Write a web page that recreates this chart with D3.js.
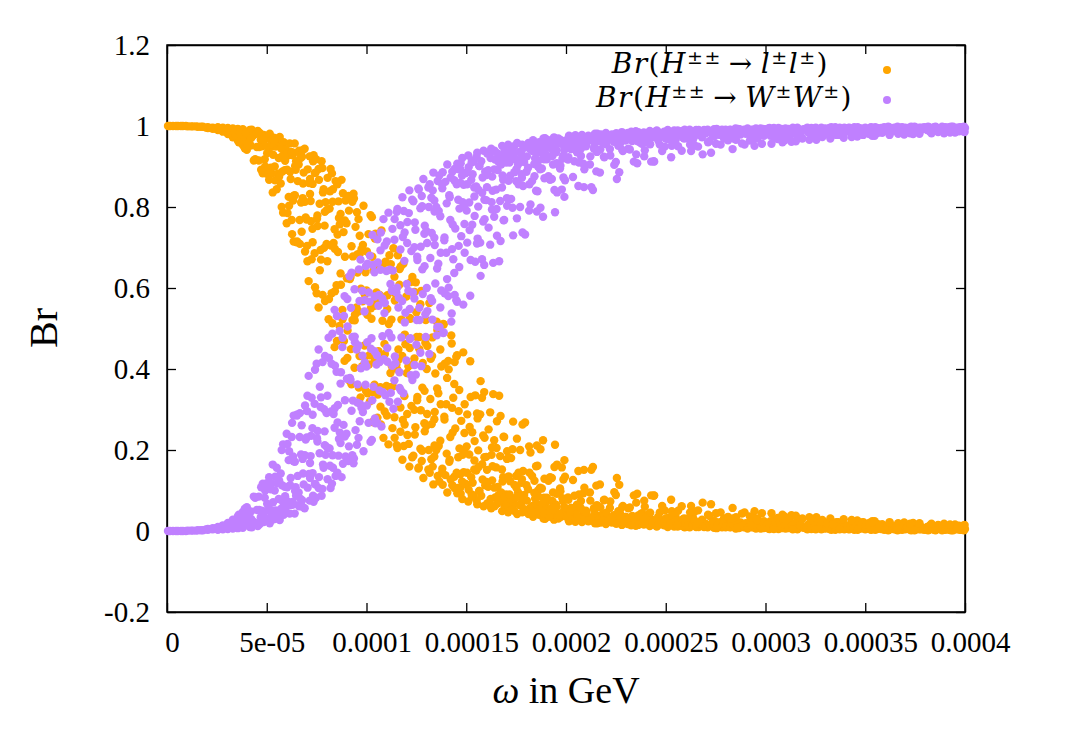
<!DOCTYPE html>
<html>
<head>
<meta charset="utf-8">
<script src="https://cdn.jsdelivr.net/npm/d3@7"></script>
<style>
body { margin: 0; background: #fff; }
svg text { font-family: 'Liberation Serif', 'DejaVu Serif', serif; fill: #000; }
</style>
</head>
<body>
<svg id="chart" width="1079" height="743"></svg>
<script>
// scan points: [omega in 1e-5 GeV, Br(H++ -> l l), Br(H++ -> W W)]
const scanPoints = [
[0.05,1,0],[0.3,1,0],[0.55,1,0],[0.8,1,0],[1.05,0.999,0.001],[1.3,0.999,0.001],[1.55,0.998,0.002],[1.8,0.998,0.002],
[2.05,0.997,0.003],[2.05,0.995,0.005],[2.3,0.996,0.004],[2.3,0.993,0.007],[2.55,0.997,0.003],[2.55,0.99,0.01],
[2.8,0.996,0.004],[2.8,0.986,0.014],[3.05,0.995,0.005],[3.05,0.98,0.02],[3.3,0.994,0.006],[3.3,0.984,0.016],
[3.3,0.972,0.028],[3.55,0.993,0.007],[3.55,0.978,0.022],[3.55,0.964,0.036],[3.8,0.992,0.008],[3.8,0.974,0.026],[3.8,0.953,0.047],
[4.0,0.941,0.059],[4.1,0.972,0.028],[4.15,0.99,0.01],[4.2,0.952,0.048],[4.25,0.991,0.009],[4.3,0.976,0.024],
[4.35,0.915,0.085],[4.45,0.98,0.02],[4.5,0.948,0.052],[4.55,0.988,0.012],[4.6,0.915,0.085],[4.65,0.983,0.017],
[4.7,0.966,0.034],[4.75,0.95,0.05],[4.8,0.883,0.117],[4.85,0.978,0.022],[4.9,0.918,0.082],[4.95,0.951,0.049],
[5.0,0.882,0.118],[5.05,0.97,0.03],[5.1,0.935,0.065],[5.15,0.981,0.019],[5.2,0.897,0.103],[5.25,0.949,0.051],
[5.25,0.883,0.117],[5.3,0.836,0.164],[5.35,0.971,0.029],[5.4,0.9,0.1],[5.45,0.949,0.051],[5.5,0.844,0.156],
[5.55,0.961,0.039],[5.55,0.882,0.118],[5.6,0.921,0.079],[5.65,0.973,0.027],[5.7,0.858,0.142],[5.75,0.8,0.2],
[5.8,0.927,0.073],[5.85,0.96,0.04],[5.9,0.891,0.109],[5.95,0.943,0.057],
[6.0,0.76,0.24],[6.05,0.927,0.073],[6.1,0.825,0.175],[6.15,0.957,0.043],[6.2,0.869,0.131],[6.25,0.768,0.232],
[6.3,0.928,0.072],[6.35,0.828,0.172],[6.35,0.715,0.285],[6.4,0.957,0.043],[6.45,0.892,0.108],[6.5,0.713,0.287],
[6.55,0.864,0.136],[6.6,0.936,0.064],[6.6,0.905,0.095],[6.65,0.768,0.232],[6.7,0.921,0.079],[6.75,0.739,0.261],
[6.8,0.822,0.178],[6.85,0.885,0.115],[6.9,0.944,0.056],[6.95,0.774,0.226],
[7.0,0.769,0.231],[7.05,0.893,0.107],[7.1,0.617,0.383],[7.15,0.925,0.075],[7.2,0.815,0.185],[7.25,0.671,0.329],
[7.3,0.857,0.143],[7.3,0.713,0.287],[7.35,0.928,0.072],[7.4,0.686,0.314],[7.45,0.885,0.115],[7.5,0.587,0.413],
[7.55,0.753,0.247],[7.6,0.894,0.106],[7.6,0.552,0.448],[7.65,0.808,0.192],[7.7,0.694,0.306],[7.75,0.913,0.087],
[7.8,0.583,0.417],[7.85,0.844,0.156],[7.9,0.754,0.246],[7.95,0.812,0.188],
[8.0,0.709,0.291],[8.05,0.872,0.128],[8.1,0.523,0.477],[8.15,0.796,0.204],[8.2,0.894,0.106],[8.25,0.587,0.413],
[8.3,0.813,0.187],[8.35,0.711,0.289],[8.4,0.454,0.546],[8.4,0.745,0.255],[8.45,0.864,0.136],[8.5,0.607,0.393],
[8.55,0.732,0.268],[8.6,0.814,0.186],[8.65,0.506,0.494],[8.7,0.636,0.364],[8.7,0.783,0.217],[8.75,0.867,0.133],
[8.8,0.523,0.477],[8.85,0.738,0.262],[8.9,0.42,0.58],[8.95,0.816,0.184],
[9.0,0.76,0.24],[9.05,0.495,0.505],[9.1,0.827,0.173],[9.15,0.371,0.629],[9.2,0.627,0.373],[9.25,0.703,0.297],
[9.25,0.362,0.638],[9.3,0.521,0.479],[9.35,0.833,0.167],[9.4,0.403,0.597],[9.45,0.751,0.249],[9.5,0.552,0.448],
[9.55,0.638,0.362],[9.6,0.77,0.23],[9.6,0.542,0.458],[9.65,0.432,0.568],[9.7,0.33,0.67],[9.75,0.696,0.304],
[9.8,0.567,0.433],[9.85,0.803,0.197],[9.9,0.458,0.542],[9.95,0.639,0.361],
[10.0,0.594,0.406],[10.05,0.34,0.66],[10.1,0.733,0.267],[10.15,0.434,0.566],[10.2,0.78,0.22],[10.25,0.524,0.476],
[10.3,0.269,0.731],[10.35,0.644,0.356],[10.4,0.361,0.639],[10.4,0.556,0.444],[10.45,0.734,0.266],[10.5,0.589,0.411],
[10.55,0.28,0.72],[10.6,0.444,0.556],[10.65,0.653,0.347],[10.7,0.355,0.645],[10.7,0.307,0.693],[10.75,0.742,0.258],
[10.8,0.519,0.481],[10.85,0.23,0.77],[10.9,0.462,0.538],[10.95,0.665,0.335],
[11.0,0.358,0.642],[11.05,0.582,0.418],[11.1,0.214,0.786],[11.15,0.681,0.319],[11.2,0.39,0.61],[11.25,0.522,0.478],
[11.3,0.254,0.746],[11.35,0.698,0.302],[11.4,0.281,0.719],[11.4,0.628,0.372],[11.45,0.586,0.414],[11.5,0.411,0.589],
[11.55,0.205,0.795],[11.6,0.448,0.552],[11.65,0.608,0.392],[11.7,0.305,0.695],[11.7,0.245,0.755],[11.75,0.522,0.478],
[11.8,0.176,0.824],[11.85,0.66,0.34],[11.9,0.333,0.667],[11.95,0.461,0.539],
[12.0,0.579,0.421],[12.05,0.237,0.763],[12.1,0.407,0.593],[12.15,0.159,0.841],[12.2,0.524,0.476],[12.25,0.309,0.691],
[12.3,0.627,0.373],[12.35,0.186,0.814],[12.4,0.426,0.574],[12.4,0.299,0.701],[12.45,0.256,0.744],[12.5,0.54,0.46],
[12.55,0.331,0.669],[12.6,0.154,0.846],[12.65,0.449,0.551],[12.7,0.203,0.797],[12.7,0.56,0.44],[12.75,0.593,0.407],
[12.8,0.354,0.646],[12.85,0.131,0.869],[12.9,0.266,0.734],[12.95,0.465,0.535],
[13.0,0.259,0.741],[13.05,0.457,0.543],[13.1,0.152,0.848],[13.15,0.563,0.437],[13.2,0.326,0.674],[13.25,0.177,0.823],
[13.3,0.478,0.522],[13.35,0.115,0.885],[13.4,0.276,0.724],[13.4,0.184,0.816],[13.45,0.389,0.611],[13.5,0.2,0.8],
[13.55,0.496,0.504],[13.6,0.34,0.66],[13.65,0.122,0.878],[13.7,0.223,0.777],[13.7,0.448,0.552],[13.75,0.406,0.594],
[13.8,0.154,0.846],[13.85,0.511,0.489],[13.9,0.282,0.718],[13.95,0.138,0.862],
[14.0,0.313,0.687],[14.05,0.095,0.905],[14.1,0.42,0.58],[14.15,0.171,0.829],[14.2,0.232,0.768],[14.25,0.483,0.517],
[14.3,0.113,0.887],[14.35,0.329,0.671],[14.4,0.134,0.866],[14.4,0.363,0.637],[14.45,0.253,0.747],[14.5,0.43,0.57],
[14.55,0.093,0.907],[14.6,0.182,0.818],[14.65,0.348,0.652],[14.7,0.14,0.86],[14.7,0.107,0.893],[14.75,0.272,0.728],
[14.8,0.079,0.921],[14.85,0.441,0.559],[14.9,0.199,0.801],[14.95,0.117,0.883],
[15.0,0.115,0.885],[15.05,0.288,0.712],[15.1,0.073,0.927],[15.15,0.189,0.811],[15.2,0.419,0.581],[15.25,0.133,0.867],
[15.3,0.244,0.756],[15.35,0.088,0.912],[15.4,0.152,0.848],[15.45,0.335,0.665],[15.5,0.149,0.851],[15.55,0.066,0.934],
[15.6,0.199,0.801],[15.65,0.099,0.901],[15.7,0.288,0.712],[15.75,0.087,0.913],[15.8,0.165,0.835],[15.85,0.236,0.764],
[15.9,0.343,0.657],[15.95,0.113,0.887],
[16.0,0.183,0.817],[16.05,0.068,0.932],[16.1,0.109,0.891],[16.2,0.293,0.707],[16.25,0.056,0.944],[16.3,0.125,0.875],
[16.35,0.338,0.662],[16.4,0.224,0.776],[16.45,0.083,0.917],[16.5,0.157,0.843],[16.55,0.067,0.933],[16.65,0.334,0.666],
[16.7,0.185,0.815],[16.75,0.095,0.905],[16.8,0.049,0.951],[16.85,0.133,0.867],[16.9,0.232,0.768],[16.95,0.074,0.926],
[17.0,0.09,0.91],[17.05,0.197,0.803],[17.1,0.046,0.954],[17.2,0.123,0.877],[17.25,0.18,0.82],[17.3,0.059,0.941],
[17.35,0.27,0.73],[17.4,0.067,0.933],[17.5,0.136,0.864],[17.55,0.042,0.958],[17.6,0.095,0.905],[17.65,0.085,0.915],
[17.7,0.2,0.8],[17.75,0.068,0.932],[17.8,0.046,0.954],[17.85,0.148,0.852],[17.9,0.089,0.911],[17.95,0.268,0.732],
[18.0,0.049,0.951],[18.1,0.103,0.897],[18.15,0.209,0.791],[18.2,0.057,0.943],[18.3,0.136,0.864],[18.35,0.035,0.965],
[18.45,0.08,0.92],[18.5,0.16,0.84],[18.55,0.066,0.934],[18.6,0.1,0.9],[18.65,0.04,0.96],[18.7,0.107,0.893],
[18.8,0.05,0.95],[18.85,0.224,0.776],[18.9,0.082,0.918],[18.95,0.03,0.97],
[19.0,0.071,0.929],[19.1,0.035,0.965],[19.2,0.133,0.867],[19.25,0.05,0.95],[19.35,0.095,0.905],[19.4,0.028,0.972],
[19.45,0.213,0.787],[19.5,0.065,0.935],[19.55,0.164,0.836],[19.6,0.043,0.957],[19.7,0.105,0.895],[19.75,0.035,0.965],
[19.85,0.074,0.926],[19.9,0.05,0.95],[19.95,0.134,0.866],
[20.0,0.039,0.961],[20.1,0.083,0.917],[20.15,0.024,0.976],[20.25,0.057,0.943],[20.35,0.126,0.874],[20.4,0.046,0.954],
[20.5,0.027,0.973],[20.55,0.065,0.935],[20.65,0.09,0.91],[20.7,0.035,0.965],[20.75,0.074,0.926],[20.8,0.022,0.978],
[20.85,0.051,0.949],[20.9,0.151,0.849],[20.95,0.039,0.961],
[21.0,0.05,0.95],[21.1,0.027,0.973],[21.2,0.095,0.905],[21.3,0.031,0.969],[21.35,0.158,0.842],[21.4,0.056,0.944],
[21.45,0.019,0.981],[21.55,0.064,0.936],[21.6,0.037,0.963],[21.7,0.115,0.885],[21.75,0.021,0.979],[21.85,0.042,0.958],
[21.9,0.076,0.924],[21.95,0.027,0.973],
[22.0,0.017,0.983],[22.1,0.034,0.966],[22.2,0.057,0.943],[22.3,0.021,0.979],[22.4,0.039,0.961],[22.5,0.089,0.911],
[22.55,0.131,0.869],[22.6,0.025,0.975],[22.7,0.045,0.955],[22.8,0.015,0.985],[22.85,0.062,0.938],[22.95,0.029,0.971],
[23.0,0.035,0.965],[23.1,0.017,0.983],[23.2,0.058,0.942],[23.3,0.022,0.978],[23.4,0.088,0.912],[23.45,0.032,0.968],
[23.5,0.013,0.987],[23.6,0.038,0.962],[23.7,0.026,0.974],[23.8,0.044,0.956],[23.9,0.016,0.984],[23.95,0.06,0.94],
[24.0,0.019,0.981],[24.1,0.041,0.959],[24.2,0.012,0.988],[24.3,0.028,0.972],[24.4,0.087,0.913],[24.5,0.022,0.978],
[24.55,0.011,0.989],[24.6,0.014,0.986],[24.7,0.046,0.954],[24.8,0.026,0.974],[24.9,0.017,0.983],[24.95,0.051,0.949],
[25.0,0.031,0.969],[25.1,0.01,0.99],[25.2,0.02,0.98],[25.3,0.049,0.951],[25.4,0.016,0.984],[25.45,0.043,0.957],
[25.5,0.034,0.966],[25.6,0.011,0.989],[25.7,0.022,0.978],[25.8,0.061,0.939],[25.9,0.018,0.982],[25.95,0.009,0.991],
[26.0,0.014,0.986],[26.1,0.031,0.969],[26.2,0.009,0.991],[26.3,0.02,0.98],[26.35,0.035,0.965],[26.45,0.048,0.952],
[26.55,0.015,0.985],[26.65,0.01,0.99],[26.75,0.023,0.977],[26.85,0.07,0.93],[26.95,0.012,0.988],
[27.0,0.018,0.982],[27.1,0.009,0.991],[27.2,0.037,0.963],[27.35,0.012,0.988],[27.45,0.025,0.975],[27.5,0.016,0.984],
[27.55,0.007,0.993],[27.65,0.017,0.983],[27.75,0.046,0.954],[27.85,0.014,0.986],[27.95,0.028,0.972],
[28.0,0.009,0.991],[28.15,0.019,0.981],[28.25,0.01,0.99],[28.35,0.057,0.943],[28.4,0.031,0.969],[28.5,0.006,0.994],
[28.6,0.015,0.985],[28.7,0.008,0.992],[28.75,0.021,0.979],[28.85,0.011,0.989],[28.95,0.046,0.954],
[29.0,0.014,0.986],[29.1,0.006,0.994],[29.25,0.024,0.976],[29.35,0.009,0.991],[29.45,0.049,0.951],[29.5,0.016,0.984],
[29.6,0.031,0.969],[29.75,0.006,0.994],[29.85,0.01,0.99],[29.95,0.018,0.982],
[30.0,0.008,0.992],[30.1,0.018,0.982],[30.2,0.005,0.995],[30.3,0.044,0.956],[30.35,0.012,0.988],[30.45,0.028,0.972],
[30.55,0.01,0.99],[30.65,0.005,0.995],[30.75,0.017,0.983],[30.85,0.011,0.989],[30.95,0.036,0.964],
[31.0,0.006,0.994],[31.1,0.013,0.987],[31.25,0.022,0.978],[31.3,0.039,0.961],[31.4,0.007,0.993],[31.5,0.015,0.985],
[31.6,0.004,0.996],[31.7,0.01,0.99],[31.8,0.027,0.973],[31.9,0.008,0.992],
[32.0,0.009,0.991],[32.1,0.004,0.996],[32.25,0.016,0.984],[32.4,0.006,0.994],[32.5,0.021,0.979],[32.55,0.034,0.966],
[32.65,0.011,0.989],[32.8,0.004,0.996],[32.9,0.012,0.988],[32.95,0.007,0.993],
[33.0,0.006,0.994],[33.15,0.012,0.988],[33.25,0.031,0.969],[33.3,0.003,0.997],[33.45,0.008,0.992],[33.55,0.022,0.978],
[33.7,0.007,0.993],[33.8,0.016,0.984],[33.9,0.009,0.991],[33.95,0.004,0.996],
[34.0,0.011,0.989],[34.15,0.005,0.995],[34.25,0.009,0.991],[34.3,0.017,0.983],[34.45,0.003,0.997],[34.55,0.007,0.993],
[34.6,0.026,0.974],[34.7,0.012,0.988],[34.8,0.006,0.994],[34.9,0.022,0.978],
[35.0,0.004,0.996],[35.15,0.008,0.992],[35.3,0.003,0.997],[35.35,0.024,0.976],[35.45,0.013,0.987],[35.55,0.006,0.994],
[35.6,0.005,0.995],[35.7,0.009,0.991],[35.85,0.017,0.983],[35.95,0.003,0.997],
[36.0,0.006,0.994],[36.15,0.002,0.998],[36.3,0.01,0.99],[36.4,0.008,0.992],[36.45,0.004,0.996],[36.6,0.014,0.986],
[36.7,0.007,0.993],[36.8,0.004,0.996],[36.85,0.003,0.997],[36.95,0.021,0.979],
[37.0,0.004,0.996],[37.15,0.011,0.989],[37.3,0.002,0.998],[37.4,0.02,0.98],[37.45,0.006,0.994],[37.55,0.005,0.995],
[37.6,0.015,0.985],[37.7,0.004,0.996],[37.85,0.007,0.993],[37.95,0.003,0.997],
[38.0,0.005,0.995],[38.15,0.002,0.998],[38.3,0.008,0.992],[38.4,0.007,0.993],[38.45,0.003,0.997],[38.6,0.011,0.989],
[38.7,0.013,0.987],[38.75,0.006,0.994],[38.85,0.002,0.998],[38.95,0.018,0.982],
[39.0,0.003,0.997],[39.15,0.006,0.994],[39.3,0.002,0.998],[39.45,0.009,0.991],[39.5,0.016,0.984],[39.6,0.004,0.996],
[39.7,0.013,0.987],[39.8,0.003,0.997],[39.9,0.007,0.993],[39.95,0.002,0.998],[40.0,0.005,0.995],
// second pass over the same plot, filling the denser parts
[0.15,1,0],[0.45,1,0],[0.7,1,0],[0.95,1,0],[1.2,0.999,0.001],[1.45,0.999,0.001],[1.7,0.998,0.002],[1.95,0.996,0.004],
[2.2,0.995,0.005],[2.45,0.993,0.007],[2.7,0.99,0.01],[2.95,0.988,0.012],[3.2,0.98,0.02],[3.45,0.975,0.025],
[3.7,0.968,0.032],[3.9,0.96,0.04],[3.15,0.99,0.01],[3.4,0.988,0.012],[3.65,0.985,0.015],[3.95,0.982,0.018],
[3.6,0.96,0.04],[3.9,0.945,0.055],
[4.02,0.956,0.044],[4.22,0.97,0.03],[4.42,0.918,0.082],[4.62,0.948,0.052],[4.82,0.966,0.034],[4.92,0.9,0.1],
[4.52,0.983,0.017],[4.72,0.892,0.108],
[5.02,0.933,0.067],[5.12,0.867,0.133],[5.22,0.954,0.046],[5.32,0.929,0.071],[5.42,0.866,0.134],[5.52,0.969,0.031],
[5.62,0.875,0.125],[5.72,0.945,0.055],[5.82,0.786,0.214],[5.92,0.914,0.086],[5.37,0.963,0.037],[5.77,0.887,0.113],
[6.02,0.892,0.108],[6.12,0.803,0.197],[6.22,0.936,0.064],[6.32,0.816,0.184],[6.42,0.901,0.099],[6.52,0.715,0.285],
[6.62,0.939,0.061],[6.72,0.811,0.189],[6.82,0.858,0.142],[6.92,0.69,0.31],[6.47,0.913,0.087],[6.27,0.733,0.267],[6.77,0.924,0.076],
[7.02,0.704,0.296],[7.12,0.859,0.141],[7.22,0.765,0.235],[7.32,0.913,0.087],[7.42,0.602,0.398],[7.52,0.771,0.229],
[7.62,0.867,0.133],[7.72,0.67,0.33],[7.82,0.836,0.164],[7.92,0.568,0.432],[7.17,0.832,0.168],[7.47,0.918,0.082],[7.87,0.699,0.301],
[8.02,0.793,0.207],[8.12,0.573,0.427],[8.22,0.705,0.295],[8.32,0.844,0.156],[8.42,0.592,0.408],[8.52,0.469,0.531],
[8.62,0.773,0.227],[8.72,0.608,0.392],[8.82,0.834,0.166],[8.92,0.677,0.323],[8.27,0.883,0.117],[8.57,0.689,0.311],[8.87,0.469,0.531],
[9.02,0.624,0.376],[9.12,0.791,0.209],[9.22,0.449,0.551],[9.32,0.678,0.322],[9.42,0.534,0.466],[9.52,0.787,0.213],
[9.62,0.354,0.646],[9.72,0.598,0.402],[9.82,0.706,0.294],[9.92,0.43,0.57],[9.37,0.821,0.179],[9.67,0.686,0.314],[9.97,0.346,0.654],
[10.02,0.69,0.31],[10.12,0.411,0.589],[10.22,0.55,0.45],[10.32,0.343,0.657],[10.42,0.722,0.278],[10.52,0.566,0.434],
[10.62,0.417,0.583],[10.72,0.263,0.737],[10.82,0.657,0.343],[10.92,0.437,0.563],[10.27,0.775,0.225],[10.57,0.337,0.663],[10.87,0.576,0.424],
[11.02,0.285,0.715],[11.12,0.511,0.489],[11.22,0.659,0.341],[11.32,0.357,0.643],[11.42,0.569,0.431],[11.52,0.212,0.788],
[11.62,0.424,0.576],[11.72,0.653,0.347],[11.82,0.274,0.726],[11.92,0.485,0.515],[11.27,0.407,0.593],[11.57,0.681,0.319],[11.87,0.21,0.79],
[12.02,0.39,0.61],[12.12,0.215,0.785],[12.22,0.615,0.385],[12.32,0.411,0.589],[12.42,0.238,0.762],[12.52,0.479,0.521],
[12.62,0.157,0.843],[12.72,0.298,0.702],[12.82,0.415,0.585],[12.92,0.246,0.754],[12.17,0.526,0.474],[12.47,0.614,0.386],
[12.77,0.173,0.827],[12.97,0.521,0.479],
[13.02,0.4,0.6],[13.12,0.2,0.8],[13.22,0.425,0.575],[13.32,0.159,0.841],[13.42,0.294,0.706],[13.52,0.517,0.483],
[13.62,0.21,0.79],[13.72,0.313,0.687],[13.82,0.114,0.886],[13.92,0.413,0.587],[13.27,0.264,0.736],[13.57,0.136,0.864],[13.87,0.51,0.49],
[14.02,0.191,0.809],[14.12,0.399,0.601],[14.22,0.127,0.873],[14.32,0.243,0.757],[14.42,0.417,0.583],[14.52,0.144,0.856],
[14.62,0.296,0.704],[14.72,0.092,0.908],[14.82,0.188,0.812],[14.92,0.313,0.687],[14.27,0.463,0.537],[14.57,0.106,0.894],[14.87,0.145,0.855],
[15.02,0.209,0.791],[15.12,0.102,0.898],[15.22,0.331,0.669],[15.32,0.119,0.881],[15.42,0.222,0.778],[15.52,0.076,0.924],
[15.62,0.158,0.842],[15.72,0.37,0.63],[15.82,0.127,0.873],[15.92,0.23,0.77],[15.27,0.09,0.91],[15.57,0.278,0.722],[15.87,0.061,0.939],
[16.02,0.121,0.879],[16.12,0.251,0.749],[16.22,0.079,0.921],[16.32,0.16,0.84],[16.42,0.061,0.939],[16.52,0.205,0.795],
[16.62,0.089,0.911],[16.72,0.284,0.716],[16.82,0.122,0.878],[16.92,0.061,0.939],[16.27,0.188,0.812],[16.57,0.109,0.891],[16.87,0.233,0.767],
[17.02,0.066,0.934],[17.12,0.135,0.865],[17.22,0.078,0.922],[17.32,0.202,0.798],[17.42,0.049,0.951],[17.52,0.106,0.894],
[17.62,0.144,0.856],[17.72,0.085,0.915],[17.82,0.263,0.737],[17.92,0.049,0.951],[17.17,0.181,0.819],[17.47,0.082,0.918],[17.77,0.119,0.881],
[18.02,0.113,0.887],[18.12,0.042,0.958],[18.22,0.194,0.806],[18.32,0.062,0.938],[18.42,0.124,0.876],[18.52,0.048,0.952],
[18.62,0.085,0.915],[18.72,0.202,0.798],[18.82,0.068,0.932],[18.92,0.129,0.871],[18.27,0.048,0.952],[18.57,0.161,0.839],[18.87,0.031,0.969],
[19.02,0.054,0.946],[19.12,0.124,0.876],[19.22,0.041,0.959],[19.32,0.074,0.926],[19.42,0.158,0.842],[19.52,0.059,0.941],
[19.62,0.031,0.969],[19.72,0.098,0.902],[19.82,0.081,0.919],[19.92,0.175,0.825],[19.27,0.057,0.943],[19.57,0.035,0.965],[19.87,0.127,0.873],
[20.02,0.035,0.965],[20.12,0.077,0.923],[20.22,0.043,0.957],[20.32,0.027,0.973],[20.42,0.087,0.913],[20.52,0.05,0.95],
[20.62,0.148,0.852],[20.72,0.058,0.942],[20.82,0.028,0.972],[20.92,0.107,0.893],[20.27,0.057,0.943],[20.57,0.036,0.964],
[20.87,0.093,0.907],[20.47,0.023,0.977],
[21.02,0.046,0.954],[21.12,0.024,0.976],[21.22,0.075,0.925],[21.32,0.035,0.965],[21.42,0.051,0.949],[21.52,0.112,0.888],
[21.62,0.026,0.974],[21.72,0.058,0.942],[21.82,0.035,0.965],[21.92,0.077,0.923],[21.27,0.151,0.849],[21.57,0.019,0.981],[21.87,0.028,0.972],
[22.02,0.045,0.955],[22.12,0.024,0.976],[22.22,0.073,0.927],[22.32,0.029,0.971],[22.42,0.096,0.904],[22.52,0.018,0.982],
[22.62,0.049,0.951],[22.72,0.034,0.966],[22.82,0.059,0.941],[22.92,0.019,0.981],[22.27,0.033,0.967],[22.67,0.114,0.886],[22.97,0.035,0.965],
[23.02,0.026,0.974],[23.12,0.056,0.944],[23.22,0.02,0.98],[23.32,0.037,0.963],[23.42,0.03,0.97],[23.52,0.07,0.93],
[23.62,0.015,0.985],[23.72,0.041,0.959],[23.82,0.02,0.98],[23.92,0.075,0.925],[23.27,0.014,0.986],[23.57,0.092,0.908],[23.87,0.03,0.97],
[24.02,0.032,0.968],[24.12,0.017,0.983],[24.22,0.045,0.955],[24.32,0.021,0.979],[24.42,0.088,0.912],[24.52,0.013,0.987],
[24.62,0.035,0.965],[24.72,0.024,0.976],[24.82,0.062,0.938],[24.92,0.014,0.986],[24.27,0.088,0.912],[24.67,0.017,0.983],[24.97,0.025,0.975],
[25.02,0.015,0.985],[25.12,0.033,0.967],[25.22,0.018,0.982],[25.32,0.038,0.962],[25.42,0.011,0.989],[25.52,0.026,0.974],
[25.62,0.05,0.95],[25.72,0.02,0.98],[25.82,0.012,0.988],[25.92,0.031,0.969],[25.27,0.077,0.923],[25.57,0.015,0.985],[25.87,0.029,0.971],
[26.02,0.023,0.977],[26.12,0.013,0.987],[26.22,0.046,0.954],[26.32,0.015,0.985],[26.42,0.027,0.973],[26.52,0.01,0.99],
[26.62,0.051,0.949],[26.72,0.017,0.983],[26.82,0.028,0.972],[26.92,0.01,0.99],[26.27,0.062,0.938],[26.57,0.019,0.981],[26.87,0.012,0.988],
[27.02,0.011,0.989],[27.12,0.04,0.96],[27.22,0.013,0.987],[27.32,0.02,0.98],[27.42,0.008,0.992],[27.52,0.044,0.956],
[27.62,0.015,0.985],[27.72,0.022,0.978],[27.82,0.009,0.991],[27.92,0.031,0.969],[27.27,0.066,0.934],[27.57,0.011,0.989],[27.87,0.016,0.984],
[28.02,0.012,0.988],[28.12,0.035,0.965],[28.22,0.009,0.991],[28.32,0.017,0.983],[28.42,0.014,0.986],[28.52,0.034,0.966],
[28.62,0.007,0.993],[28.72,0.019,0.981],[28.82,0.043,0.957],[28.92,0.009,0.991],[28.27,0.03,0.97],[28.57,0.008,0.992],[28.87,0.014,0.986],
[29.02,0.019,0.981],[29.12,0.008,0.992],[29.22,0.036,0.964],[29.32,0.01,0.99],[29.42,0.03,0.97],[29.52,0.006,0.994],
[29.62,0.014,0.986],[29.72,0.012,0.988],[29.82,0.044,0.956],[29.92,0.024,0.976],[29.27,0.014,0.986],[29.57,0.027,0.973],[29.87,0.007,0.993],
[30.05,0.015,0.985],[30.15,0.006,0.994],[30.25,0.024,0.976],[30.4,0.01,0.99],[30.5,0.019,0.981],[30.6,0.032,0.968],
[30.7,0.011,0.989],[30.8,0.007,0.993],[30.9,0.025,0.975],[30.97,0.016,0.984],[30.42,0.005,0.995],[30.85,0.04,0.96],
[31.05,0.019,0.981],[31.15,0.007,0.993],[31.2,0.03,0.97],[31.35,0.013,0.987],[31.45,0.006,0.994],[31.55,0.021,0.979],
[31.65,0.008,0.992],[31.75,0.014,0.986],[31.85,0.031,0.969],[31.95,0.009,0.991],[31.52,0.038,0.962],[31.37,0.004,0.996],
[32.05,0.006,0.994],[32.15,0.016,0.984],[32.3,0.005,0.995],[32.35,0.027,0.973],[32.45,0.009,0.991],[32.6,0.018,0.982],
[32.7,0.007,0.993],[32.75,0.012,0.988],[32.85,0.027,0.973],[32.95,0.01,0.99],[32.2,0.034,0.966],[32.52,0.004,0.996],
[33.05,0.008,0.992],[33.1,0.02,0.98],[33.2,0.005,0.995],[33.35,0.014,0.986],[33.5,0.003,0.997],[33.6,0.01,0.99],
[33.65,0.022,0.978],[33.75,0.006,0.994],[33.85,0.011,0.989],[33.92,0.029,0.971],[33.4,0.016,0.984],[33.72,0.004,0.996],
[34.05,0.006,0.994],[34.1,0.014,0.986],[34.2,0.004,0.996],[34.35,0.021,0.979],[34.4,0.007,0.993],[34.5,0.015,0.985],
[34.65,0.005,0.995],[34.75,0.01,0.99],[34.85,0.021,0.979],[34.95,0.008,0.992],[34.32,0.027,0.973],[34.62,0.003,0.997],
[35.05,0.007,0.993],[35.1,0.016,0.984],[35.25,0.004,0.996],[35.4,0.009,0.991],[35.5,0.003,0.997],[35.65,0.017,0.983],
[35.75,0.007,0.993],[35.8,0.005,0.995],[35.9,0.012,0.988],[35.2,0.02,0.98],[35.47,0.024,0.976],[35.72,0.011,0.989],
[36.05,0.005,0.995],[36.1,0.012,0.988],[36.2,0.003,0.997],[36.25,0.017,0.983],[36.35,0.006,0.994],[36.5,0.008,0.992],
[36.55,0.004,0.996],[36.65,0.019,0.981],[36.75,0.007,0.993],[36.9,0.013,0.987],[36.62,0.002,0.998],[36.22,0.022,0.978],
[37.05,0.006,0.994],[37.1,0.01,0.99],[37.2,0.004,0.996],[37.35,0.015,0.985],[37.5,0.003,0.997],[37.65,0.006,0.994],
[37.75,0.012,0.988],[37.8,0.004,0.996],[37.9,0.007,0.993],[37.25,0.018,0.982],[37.72,0.019,0.981],[37.47,0.002,0.998],
[38.05,0.004,0.996],[38.1,0.01,0.99],[38.2,0.003,0.997],[38.25,0.014,0.986],[38.35,0.005,0.995],[38.5,0.007,0.993],
[38.55,0.003,0.997],[38.65,0.015,0.985],[38.8,0.006,0.994],[38.9,0.011,0.989],[38.52,0.002,0.998],[38.32,0.018,0.982],
[39.05,0.004,0.996],[39.1,0.011,0.989],[39.2,0.003,0.997],[39.35,0.007,0.993],[39.4,0.002,0.998],[39.55,0.012,0.988],
[39.65,0.005,0.995],[39.75,0.003,0.997],[39.85,0.008,0.992],[39.9,0.013,0.987],[39.25,0.016,0.984],[39.62,0.006,0.994],[39.98,0.015,0.985],
// third pass, spread part of the crossing
[6.04,0.785,0.215],[6.17,0.887,0.113],[6.29,0.935,0.065],[6.41,0.829,0.171],[6.54,0.905,0.095],[6.66,0.709,0.291],[6.79,0.94,0.06],[6.91,0.813,0.187],
[7.04,0.666,0.334],[7.17,0.869,0.131],[7.29,0.746,0.254],[7.41,0.884,0.116],[7.54,0.779,0.221],[7.66,0.644,0.356],[7.79,0.896,0.104],[7.91,0.788,0.212],
[8.04,0.666,0.334],[8.17,0.839,0.161],[8.29,0.513,0.487],[8.41,0.697,0.303],[8.54,0.856,0.144],[8.66,0.757,0.243],[8.79,0.546,0.454],[8.91,0.767,0.233],
[9.04,0.427,0.573],[9.17,0.622,0.378],[9.29,0.813,0.187],[9.41,0.52,0.48],[9.54,0.683,0.317],[9.66,0.729,0.271],[9.79,0.407,0.593],[9.91,0.584,0.416],
[10.04,0.534,0.466],[10.17,0.32,0.68],[10.29,0.677,0.323],[10.41,0.421,0.579],[10.54,0.733,0.267],[10.66,0.583,0.417],[10.79,0.426,0.574],[10.91,0.295,0.705],
[11.04,0.548,0.452],[11.17,0.355,0.645],[11.29,0.592,0.408],[11.41,0.23,0.77],[11.54,0.399,0.601],[11.66,0.647,0.353],[11.79,0.432,0.568],[11.91,0.263,0.737],
[12.04,0.289,0.711],[12.17,0.452,0.548],[12.29,0.182,0.818],[12.41,0.59,0.41],[12.54,0.323,0.677],[12.66,0.479,0.521],[12.79,0.198,0.802],[12.91,0.346,0.654],
[13.04,0.289,0.711],[13.17,0.144,0.856],[13.29,0.432,0.568],[13.41,0.211,0.789],[13.54,0.352,0.648],[13.66,0.496,0.504],[13.79,0.144,0.856],[13.91,0.275,0.725],
[14.04,0.378,0.622],[14.17,0.176,0.824],[14.29,0.304,0.696],[14.41,0.106,0.894],[14.54,0.434,0.566],[14.66,0.204,0.796],[14.79,0.122,0.878],[14.91,0.242,0.758],
[15.04,0.144,0.856],[15.17,0.257,0.743],[15.29,0.085,0.915],[15.41,0.174,0.826],[15.54,0.29,0.71],[15.66,0.099,0.901],[15.79,0.329,0.671],[15.91,0.182,0.818],
[16.04,0.151,0.849],[16.17,0.069,0.931],[16.29,0.206,0.794],[16.41,0.107,0.893],[16.54,0.271,0.729],[16.66,0.074,0.926],[16.79,0.152,0.848],[16.91,0.085,0.915],
[17.04,0.178,0.822],[17.17,0.09,0.91],[17.29,0.054,0.946],[17.41,0.114,0.886],[17.54,0.228,0.772],[17.66,0.064,0.936],[17.79,0.128,0.872],[17.91,0.054,0.946],
[18.04,0.075,0.925],[18.17,0.144,0.856],[18.29,0.044,0.956],[18.41,0.094,0.906],[18.54,0.211,0.789],[18.66,0.052,0.948],[18.79,0.105,0.895],[18.91,0.044,0.956],
[19.04,0.082,0.918],[19.17,0.036,0.964],[19.29,0.131,0.869],[19.41,0.057,0.943],[19.54,0.092,0.908],[19.66,0.039,0.961],[19.79,0.157,0.843],[19.91,0.06,0.94]
]

const xTickValues = [0, 5, 10, 15, 20, 25, 30, 35, 40]
const xTickLabels = ['0', '5e-05', '0.0001', '0.00015', '0.0002', '0.00025', '0.0003', '0.00035', '0.0004']
const yTickValues = [-0.2, 0, 0.2, 0.4, 0.6, 0.8, 1, 1.2]
const yTickLabels = ['-0.2', '0', '0.2', '0.4', '0.6', '0.8', '1', '1.2']

// legend labels as [text, kind]: i = math italic, r = roman, a = arrow, s = superscript
const llLabel = [['Br', 'i'], ['(', 'r'], ['H', 'i'], ['\u00b1\u00b1', 's'], ['\u2192', 'a'],
    ['l', 'i'], ['\u00b1', 's'], ['l', 'i'], ['\u00b1', 's'], [')', 'r']]
const wwLabel = [['Br', 'i'], ['(', 'r'], ['H', 'i'], ['\u00b1\u00b1', 's'], ['\u2192', 'a'],
    ['W', 'i'], ['\u00b1', 's'], ['W', 'i'], ['\u00b1', 's'], [')', 'r']]

const series = [
    { key: 'll', col: 1, color: '#ffa500', label: llLabel, textEnd: 829, y: 70, base: 73 },
    { key: 'ww', col: 2, color: '#c080ff', label: wwLabel, textEnd: 853, y: 100, base: 107 }
]

// canvas
const width = 1079
const height = 743
const margin = { top: 45, right: 114, bottom: 131, left: 167 }
const w = width - margin.left - margin.right
const h = height - margin.top - margin.bottom

const svg = d3.select('#chart')
svg.append('rect').attr('width', width).attr('height', height).attr('fill', '#fff')
const g = svg.append('g').attr('transform', `translate(${margin.left}, ${margin.top})`)

const xScale = d3.scaleLinear().domain([0, 40]).range([0, w])
const yScale = d3.scaleLinear().domain([-0.2, 1.2]).range([h, 0])

const tickLen = -9
const axisFont = 29
const serif = "'Liberation Serif', 'DejaVu Serif', serif"

// bottom axis with labels
const xAxisG = g.append('g')
    .attr('transform', `translate(0, ${h})`)
    .call(d3.axisBottom(xScale)
        .tickValues(xTickValues)
        .tickFormat((d, i) => xTickLabels[i])
        .tickSizeInner(tickLen).tickSizeOuter(0).tickPadding(19))
xAxisG.selectAll('text').attr('dx', 5)

// top axis, ticks only
g.append('g')
    .call(d3.axisTop(xScale)
        .tickValues(xTickValues)
        .tickFormat('')
        .tickSizeInner(tickLen).tickSizeOuter(0))

// left axis with labels
g.append('g')
    .call(d3.axisLeft(yScale)
        .tickValues(yTickValues)
        .tickFormat((d, i) => yTickLabels[i])
        .tickSizeInner(tickLen).tickSizeOuter(0).tickPadding(17))

// right axis, ticks only
g.append('g')
    .attr('transform', `translate(${w}, 0)`)
    .call(d3.axisRight(yScale)
        .tickValues(yTickValues)
        .tickFormat('')
        .tickSizeInner(tickLen).tickSizeOuter(0))

g.selectAll('g').attr('font-family', serif)
g.selectAll('.tick text')
    .style('font-size', axisFont + 'px')
    .style('font-family', serif)
g.selectAll('.domain, .tick line')
    .attr('stroke', '#000')
    .attr('stroke-width', 1.3)

// border
g.append('rect')
    .attr('width', w).attr('height', h)
    .attr('fill', 'none').attr('stroke', '#000').attr('stroke-width', 1.5)

// axis titles
const xTitle = svg.append('text')
    .attr('x', 566).attr('y', 703)
    .attr('text-anchor', 'middle')
    .style('font-size', '38px')
xTitle.append('tspan').style('font-style', 'italic').text('\u03c9')
xTitle.append('tspan').text(' in GeV')

svg.append('text')
    .attr('transform', 'translate(57, 328) rotate(-90)')
    .attr('text-anchor', 'middle')
    .style('font-size', '40px')
    .text('Br')

// scatter points, orange first, purple on top
const pointsG = g.append('g')
series.forEach(s => {
    pointsG.append('g')
        .attr('class', 'series-' + s.key)
        .selectAll('circle')
        .data(scanPoints)
        .join('circle')
        .attr('cx', d => xScale(d[0]))
        .attr('cy', d => yScale(d[s.col]))
        .attr('r', 4.2)
        .attr('fill', s.color)
})

// legend
const legendFont = "'DejaVu Serif', serif"
const legendG = svg.append('g').attr('class', 'legend')
series.forEach(s => {
    const t = legendG.append('text')
        .attr('x', s.textEnd).attr('y', s.base)
        .attr('text-anchor', 'end')
        .style('font-family', legendFont)
        .style('font-size', '28px')
        .style('letter-spacing', '1.5px')
    let raised = false
    let afterArrow = false
    s.label.forEach(([txt, kind]) => {
        const sp = t.append('tspan').text(txt)
        if (kind === 's') {
            sp.style('font-size', '19px')
            if (!raised) sp.attr('dy', -9)
            raised = true
            return
        }
        if (raised) sp.attr('dy', 9)
        raised = false
        if (kind === 'i') sp.style('font-style', 'italic')
        if (kind === 'a') sp.attr('dx', 7)
        if (afterArrow) sp.attr('dx', 7)
        afterArrow = kind === 'a'
    })
    legendG.append('circle')
        .attr('cx', 887).attr('cy', s.y)
        .attr('r', 4)
        .attr('fill', s.color)
})
</script>
</body>
</html>
